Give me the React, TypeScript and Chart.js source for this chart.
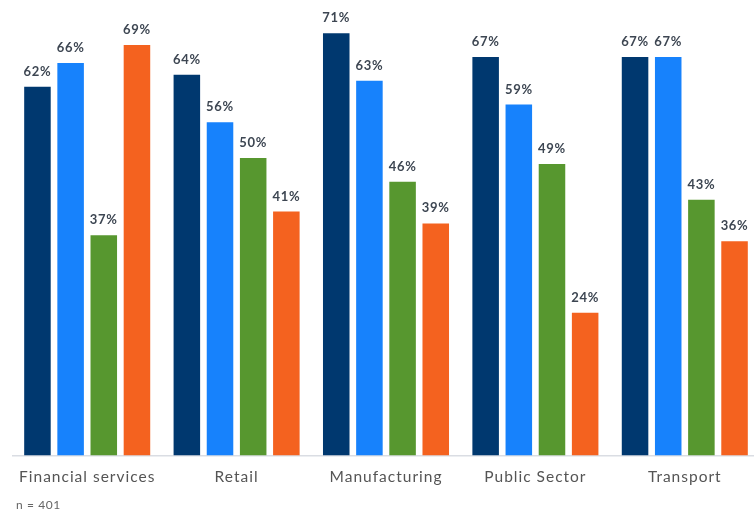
import React, { useEffect, useRef } from "react";
import { Chart, registerables } from "chart.js";

Chart.register(...registerables);

const categories = ["Financial services", "Retail", "Manufacturing", "Public Sector", "Transport"];
const seriesA = [62, 64, 71, 67, 67];
const seriesB = [66, 56, 63, 59, 67];
const seriesC = [37, 50, 46, 49, 43];
const seriesD = [69, 41, 39, 24, 36];
const seriesNames = ["Series 1", "Series 2", "Series 3", "Series 4"];
const colors = ["#00386f", "#1782fc", "#57972f", "#f4621f"];
const note = "n = 401";

const spacingPlugin = {
  id: "spacing",
  beforeDraw(chart: any) {
    (chart.ctx as any).letterSpacing = "1px";
  },
  afterDraw(chart: any) {
    (chart.ctx as any).letterSpacing = "0px";
  },
};

const labelPlugin = {
  id: "barLabels",
  afterDatasetsDraw(chart: any) {
    const ctx = chart.ctx;
    ctx.save();
    (ctx as any).letterSpacing = "0.7px";
    ctx.font = "bold 13px Lato";
    ctx.fillStyle = "#3d4652";
    ctx.textAlign = "center";
    ctx.textBaseline = "alphabetic";
    chart.data.datasets.forEach((ds: any, i: number) => {
      const meta = chart.getDatasetMeta(i);
      meta.data.forEach((el: any, j: number) => {
        ctx.fillText(ds.data[j] + "%", el.x, el.y - 11);
      });
    });
    (ctx as any).letterSpacing = "0.6px";
    ctx.font = "12px Lato";
    ctx.fillStyle = "#666666";
    ctx.textAlign = "left";
    ctx.fillText(note, 16, 509);
    ctx.restore();
  },
};

export default function App() {
  const ref = useRef<HTMLCanvasElement>(null);
  useEffect(() => {
    if (!ref.current) return;
    const data = [seriesA, seriesB, seriesC, seriesD];
    const chart = new Chart(ref.current, {
      type: "bar",
      data: {
        labels: categories,
        datasets: data.map((d, i) => ({
          label: seriesNames[i],
          data: d,
          backgroundColor: colors[i],
          barPercentage: 0.8,
          categoryPercentage: 0.888,
        })),
      },
      options: {
        animation: false,
        responsive: false,
        devicePixelRatio: 1,
        layout: { padding: { left: 12.5, right: 10.5, top: 7, bottom: 12 } },
        plugins: {
          legend: { display: false },
          tooltip: { enabled: false },
        },
        scales: {
          x: {
            grid: { display: false, drawTicks: false },
            border: { display: true, color: "#dadde3", width: 1.5 },
            ticks: {
              padding: 12,
              color: "#555555",
              font: { family: "Lato", size: 15.5 },
            },
          },
          y: {
            display: false,
            min: 0,
            max: 75.4,
          },
        },
      },
      plugins: [spacingPlugin, labelPlugin],
    });
    return () => chart.destroy();
  }, []);
  return (
    <div style={{ position: "fixed", left: 0, top: 0, width: 754, height: 510, overflow: "hidden", background: "#fff" }}>
      <canvas ref={ref} width={770} height={510} style={{ display: "block", width: 770, height: 510 }} />
    </div>
  );
}
